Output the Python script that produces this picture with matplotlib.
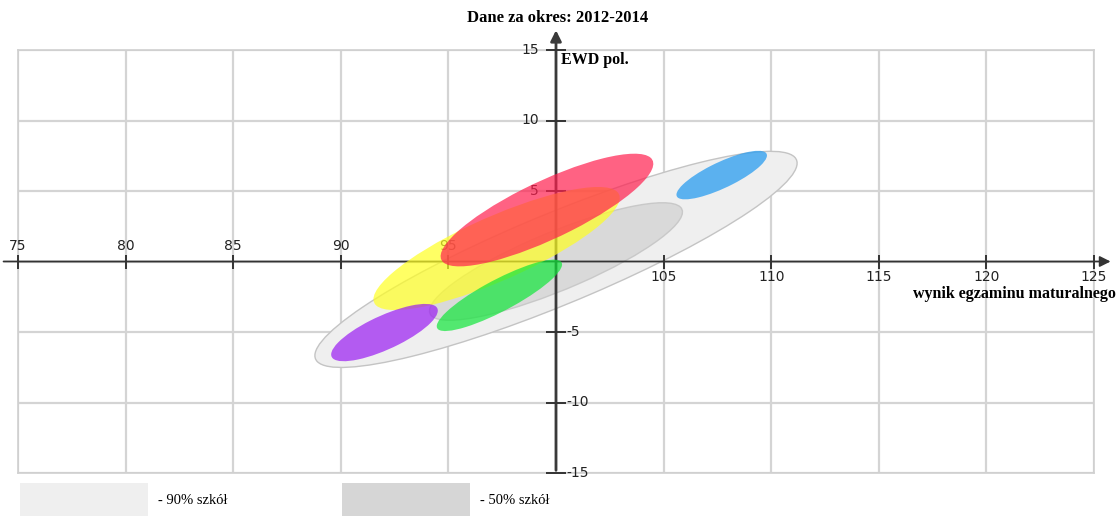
import numpy as np
import matplotlib.pyplot as plt
from matplotlib.patches import Ellipse, Rectangle

# zakres osi
x_min, x_max = 75, 125
y_min, y_max = -15, 15
x_ticks = [75, 80, 85, 90, 95, 100, 105, 110, 115, 120, 125]
y_ticks = [-15, -10, -5, 5, 10, 15]

# elipsy obszarow szkol (90% i 50%)
area_cx = [100.0, 100.0]
area_cy = [0.15, 0.0]
area_w = [26.5, 13.9]
area_h = [5.9, 3.8]
area_angle = [33.2, 33.7]
area_color = ['#efefef', '#d6d6d6']
area_label = ['- 90% szkół', '- 50% szkół']

# elipsy szkol (kolorowe)
school_cx = [107.7, 97.24, 99.58, 97.37, 92.03]
school_cy = [6.13, 0.92, 3.65, -2.4, -5.04]
school_w = [5.18, 13.8, 12.16, 7.46, 6.04]
school_h = [1.65, 4.1, 3.7, 1.98, 2.15]
school_angle = [38.0, 35.8, 37.7, 40.4, 37.7]
school_color = ['#2a9df0', '#ffff22', '#ff1f4f', '#11e63a', '#9a1cf2']
school_alpha = [0.75, 0.7, 0.7, 0.7, 0.7]

fig = plt.figure(figsize=(11.18, 5.16), dpi=100)
ax = fig.add_axes([18 / 1118, 1 - 473 / 516, (1094 - 18) / 1118, (473 - 50) / 516])
ax.set_xlim(x_min, x_max)
ax.set_ylim(y_min, y_max)
ax.set_xticks(x_ticks)
ax.set_yticks([-15, -10, -5, 0, 5, 10, 15])
ax.tick_params(length=0, labelbottom=False, labelleft=False)
ax.grid(True, color='#d4d4d4', linewidth=1.6)
ax.set_axisbelow(True)
for s in ax.spines.values():
    s.set_color('#d0d0d0')
    s.set_linewidth(1.2)

# obszary szare
for i in range(len(area_cx)):
    ax.add_patch(Ellipse((area_cx[i], area_cy[i]), area_w[i], area_h[i], angle=area_angle[i],
                         facecolor=area_color[i], edgecolor='#c4c4c4', linewidth=1.0,
                         alpha=0.85 if i == 1 else 1.0, zorder=2))

# osie przez srodek
ax.annotate('', xy=(100, 16.6), xytext=(100, -15),
            arrowprops=dict(arrowstyle='-|>', color='#3a3a3a', lw=2.0, mutation_scale=16),
            annotation_clip=False, zorder=3)
ax.annotate('', xy=(125.9, 0), xytext=(74.2, 0),
            arrowprops=dict(arrowstyle='-|>', color='#333333', lw=1.3, mutation_scale=16),
            annotation_clip=False, zorder=3)

# podzialki
ax.plot(x_ticks, [0] * len(x_ticks), linestyle='none', marker='|', markersize=10,
        markeredgewidth=1.4, color='#333333', clip_on=False, zorder=3)
ax.plot([100] * len(y_ticks), y_ticks, linestyle='none', marker='_', markersize=14,
        markeredgewidth=1.4, color='#333333', clip_on=False, zorder=3)

for x in x_ticks:
    if x < 100:
        ax.text(x, 0.6, str(x), ha='center', va='bottom', fontsize=10, color='#222222', zorder=4)
    elif x > 100:
        ax.text(x, -0.6, str(x), ha='center', va='top', fontsize=10, color='#222222', zorder=4)
for y in y_ticks:
    if y > 0:
        ax.text(99.2, y, str(y), ha='right', va='center', fontsize=10, color='#222222', zorder=4)
    else:
        ax.text(100.5, y, str(y), ha='left', va='center', fontsize=10, color='#222222', zorder=4)

# elipsy szkol
for i in range(len(school_cx)):
    ax.add_patch(Ellipse((school_cx[i], school_cy[i]), school_w[i], school_h[i],
                         angle=school_angle[i], facecolor=school_color[i],
                         edgecolor='none', alpha=school_alpha[i], zorder=5))

# opisy
ax.text(100.25, 14.3, 'EWD pol.', ha='left', va='center', fontsize=11.5,
        fontweight='bold', family='Liberation Serif', zorder=6)
ax.text(126.0, -1.75, 'wynik egzaminu maturalnego', ha='right', va='top', fontsize=11.5,
        fontweight='bold', family='Liberation Serif', zorder=6, clip_on=False)
fig.text(557.5 / 1118, 1 - 18 / 516, 'Dane za okres: 2012-2014', ha='center', va='center',
         fontsize=12, fontweight='bold', family='Liberation Serif')

# legenda
legend_x = [20, 342]
for i in range(len(area_label)):
    fig.patches.append(Rectangle((legend_x[i] / 1118, 0), 128 / 1118, 33 / 516,
                                 transform=fig.transFigure, facecolor=area_color[i],
                                 edgecolor='none'))
    fig.text((legend_x[i] + 138) / 1118, 1 - 501 / 516, area_label[i], ha='left',
             va='center', fontsize=10.5, family='Liberation Serif')

fig.savefig('out.png', dpi=100)
